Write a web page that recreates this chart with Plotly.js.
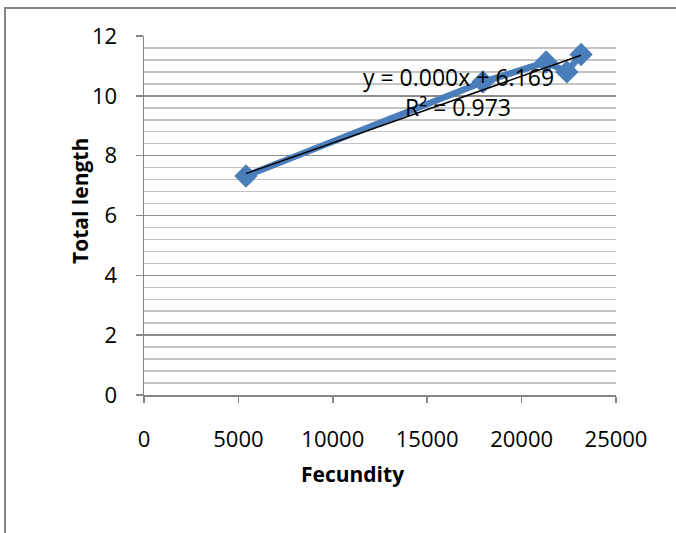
<!DOCTYPE html>
<html><head><meta charset="utf-8">
<script src="https://cdn.plot.ly/plotly-3.0.1.min.js"></script>
<style>html,body{margin:0;padding:0;background:#fff;}#chart{width:676px;height:533px;}</style>
</head><body><div id="chart"></div>
<script>
const fecundity = [5400, 17950, 21300, 22400, 23150];
const totalLength = [7.32, 10.46, 11.13, 10.8, 11.38];
const xTicks = [0, 5000, 10000, 15000, 20000, 25000];
const yTicks = [0, 2, 4, 6, 8, 10, 12];
const xTitle = "Fecundity";
const yTitle = "Total length";
const eqText = "y = 0.000x + 6.169";
const r2Text = "R² = 0.973";

// least-squares trendline from the data
const n = fecundity.length;
const mx = fecundity.reduce((a,b)=>a+b,0)/n;
const my = totalLength.reduce((a,b)=>a+b,0)/n;
let sxy=0, sxx=0;
for (let i=0;i<n;i++){ sxy+=(fecundity[i]-mx)*(totalLength[i]-my); sxx+=(fecundity[i]-mx)**2; }
const slope = sxy/sxx, icpt = my - slope*mx;
const xmin = Math.min(...fecundity), xmax = Math.max(...fecundity);

const font = "Open Sans, sans-serif";
const L=144, R=60, T=36, B=138, W=676-L-R, H=533-T-B;
const px = v => (v-L)/W, py = v => 1-(v-T)/H;

const data = [
  {x: fecundity, y: totalLength, type:'scatter', mode:'lines+markers',
   line:{color:'#4A7EBB', width:6.5},
   marker:{symbol:'diamond', size:18, color:'#4A7EBB'}, showlegend:false, hoverinfo:'skip'},
  {x:[xmin,xmax], y:[icpt+slope*xmin, icpt+slope*xmax], type:'scatter', mode:'lines',
   line:{color:'#000', width:1.5}, showlegend:false, hoverinfo:'skip'}
];

const layout = {
  width:676, height:533, paper_bgcolor:'#fff', plot_bgcolor:'#fff',
  margin:{l:L, r:R, t:T, b:B, pad:0},
  font:{family:font, size:22, color:'#000'},
  xaxis:{range:[0,25000], tickvals:xTicks, ticktext:xTicks.map(String), showgrid:false, zeroline:false,
    showline:true, linecolor:'#868686', linewidth:1.5, ticks:'outside', ticklen:6, tickcolor:'#868686', tickwidth:1.5,
    ticklabelstandoff:18, tickfont:{family:font, size:22}},
  yaxis:{range:[0,12], tickvals:yTicks, ticktext:yTicks.map(String), showgrid:true, gridcolor:'#8c8c8c', gridwidth:1.5, zeroline:false,
    showline:true, linecolor:'#868686', linewidth:1.5, ticks:'outside', ticklen:7, tickcolor:'#868686', tickwidth:1.5,
    ticklabelstandoff:14, tickfont:{family:font, size:22},
    minor:{dtick:0.4, showgrid:true, gridcolor:'#c4c4c4', gridwidth:1.5, ticks:''}},
  annotations:[
    {xref:'paper', yref:'paper', x:px(458), y:py(77), text:eqText, showarrow:false, font:{family:font, size:23}, xanchor:'center', yanchor:'middle'},
    {xref:'paper', yref:'paper', x:px(458), y:py(107), text:r2Text, showarrow:false, font:{family:font, size:23}, xanchor:'center', yanchor:'middle'},
    {xref:'paper', yref:'paper', x:px(352), y:py(474), text:'<b>'+xTitle+'</b>', showarrow:false, font:{family:font, size:21}, xanchor:'center', yanchor:'middle'},
    {xref:'paper', yref:'paper', x:px(80), y:py(201), text:'<b>'+yTitle+'</b>', textangle:-90, showarrow:false, font:{family:font, size:21}, xanchor:'center', yanchor:'middle'}
  ],
  shapes:[
    {type:'rect', xref:'paper', yref:'paper', x0:px(5), x1:px(720), y0:py(560), y1:py(8),
     line:{color:'#868686', width:2}, fillcolor:'rgba(0,0,0,0)', layer:'below'}
  ]
};
Plotly.newPlot('chart', data, layout, {staticPlot:true, displayModeBar:false});
</script></body></html>
